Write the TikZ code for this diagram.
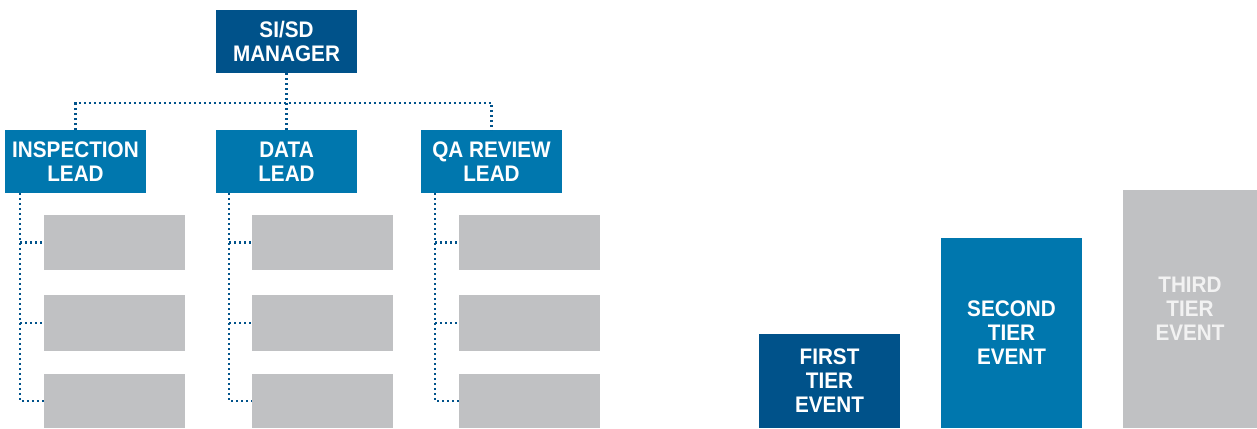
\documentclass[tikz,border=0pt]{standalone}
\usepackage{fontspec}
\setmainfont{Liberation Sans}[FakeStretch=0.92]
\usetikzlibrary{calc}
\definecolor{dkblue}{HTML}{00528A}
\definecolor{mdblue}{HTML}{0077AE}
\definecolor{ltgray}{HTML}{C0C1C3}
\definecolor{txgray}{HTML}{F2F2F2}
\tikzset{
  box/.style={inner sep=0pt, outer sep=0pt, align=center, text=white,
    font=\fontsize{22.5}{24}\selectfont\bfseries},
  mgrbox/.style={box, fill=dkblue, minimum width=141pt, minimum height=63pt},
  leadbox/.style={box, fill=mdblue, minimum width=141pt, minimum height=63pt},
  graybox/.style={box, fill=ltgray, minimum width=141pt},
  dotline/.style={draw=dkblue, line width=2.6pt, dash pattern=on 2.4pt off 2.6pt}
}
\begin{document}
\begin{tikzpicture}[x=1pt,y=-1pt]
\useasboundingbox (0,0) rectangle (1257,428);
% manager and leads
\node[mgrbox] (mgr) at (286.5,41.5) {SI/SD\\MANAGER};
\node[leadbox] (insp) at (75.5,161.5) {INSPECTION\\LEAD};
\node[leadbox] (data) at (286.5,161.5) {DATA\\LEAD};
\node[leadbox] (qa) at (491.5,161.5) {QA REVIEW\\LEAD};
% gray child boxes
\node[graybox, minimum height=55pt] (g11) at (114.5,242.5) {};
\node[graybox, minimum height=56pt] (g12) at (114.5,323) {};
\node[graybox, minimum height=54pt] (g13) at (114.5,401) {};
\node[graybox, minimum height=55pt] (g21) at (322.5,242.5) {};
\node[graybox, minimum height=56pt] (g22) at (322.5,323) {};
\node[graybox, minimum height=54pt] (g23) at (322.5,401) {};
\node[graybox, minimum height=55pt] (g31) at (529.5,242.5) {};
\node[graybox, minimum height=56pt] (g32) at (529.5,323) {};
\node[graybox, minimum height=54pt] (g33) at (529.5,401) {};
% tier events
\node[box, fill=dkblue, minimum width=141pt, minimum height=94pt] (t1) at (829.5,381) {FIRST\\TIER\\EVENT};
\node[box, fill=mdblue, minimum width=141pt, minimum height=190pt] (t2) at (1011.5,333) {SECOND\\TIER\\EVENT};
\node[box, fill=ltgray, text=txgray, minimum width=134pt, minimum height=238pt] (t3) at (1190,309) {THIRD\\TIER\\EVENT};
% connectors manager -> leads
\draw[dotline] (mgr.south) -- (data.north);
\draw[dotline] (insp.north) -- ++(0,-27) -| (qa.north);
% connectors lead -> children
\coordinate (s1) at (20,193);
\coordinate (s2) at (229,193);
\coordinate (s3) at (435,193);
\draw[dotline] (s1) |- (g13.west);
\draw[dotline] (s1 |- g11.west) -- (g11.west);
\draw[dotline] (s1 |- g12.west) -- (g12.west);
\draw[dotline] (s2) |- (g23.west);
\draw[dotline] (s2 |- g21.west) -- (g21.west);
\draw[dotline] (s2 |- g22.west) -- (g22.west);
\draw[dotline] (s3) |- (g33.west);
\draw[dotline] (s3 |- g31.west) -- (g31.west);
\draw[dotline] (s3 |- g32.west) -- (g32.west);
\end{tikzpicture}
\end{document}
